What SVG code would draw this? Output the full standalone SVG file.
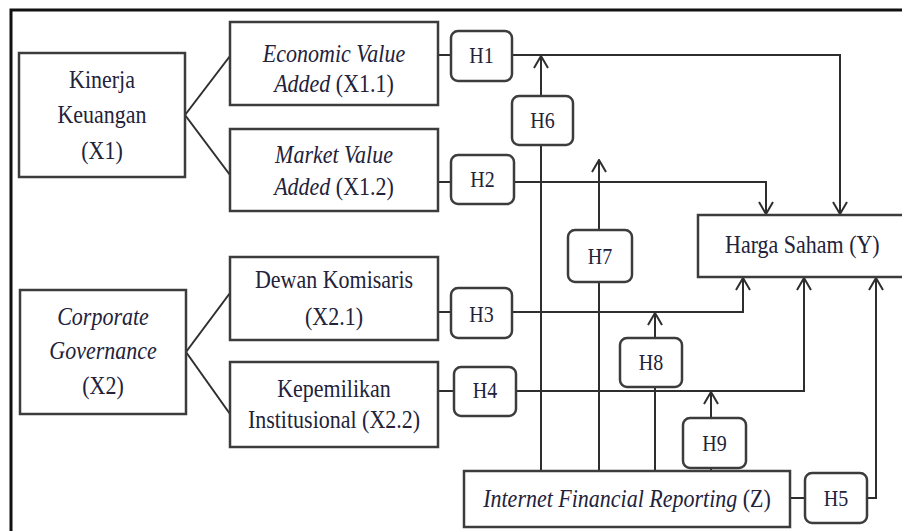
<svg xmlns="http://www.w3.org/2000/svg" width="902" height="531" viewBox="0 0 902 531">
<defs>
<style>
.box{fill:#fff;stroke:#3c3c3c;stroke-width:2.5}
.hb{fill:#fff;stroke:#3c3c3c;stroke-width:2.5}
.t{font-family:"Liberation Serif","Times New Roman",Times,serif;font-size:22px;fill:#22223a;text-anchor:middle}
.h{font-family:"Liberation Serif","Times New Roman",Times,serif;font-size:20px;fill:#22223a;text-anchor:middle}
.c{fill:none;stroke:#2e2e2e;stroke-width:2}
.i{font-style:italic}
</style>
<marker id="arr" viewBox="0 0 14 16" refX="13" refY="8" markerWidth="14" markerHeight="16" markerUnits="userSpaceOnUse" orient="auto">
<path d="M1,1 L13,8 L1,15" fill="none" stroke="#2e2e2e" stroke-width="2"/>
</marker>
</defs>
<rect x="0" y="0" width="902" height="531" fill="#fff"/>
<rect x="11" y="10" width="900" height="530" fill="none" stroke="#111" stroke-width="3"/>

<g id="connectors">
<path class="c" d="M185,115 L230,56"/>
<path class="c" d="M185,115 L230,175"/>
<path class="c" d="M186,352 L230,293"/>
<path class="c" d="M186,352 L230,414"/>
<path class="c" d="M438,55 L451,55"/>
<path class="c" d="M512,55 H840 V214" marker-end="url(#arr)"/>
<path class="c" d="M541,96 V56" marker-end="url(#arr)"/>
<path class="c" d="M541,471 V145"/>
<path class="c" d="M438,182 L451,182"/>
<path class="c" d="M514,182 H766 V214" marker-end="url(#arr)"/>
<path class="c" d="M599,471 V282"/>
<path class="c" d="M599,230 V160" marker-end="url(#arr)"/>
<path class="c" d="M438,312 L451,312"/>
<path class="c" d="M512,312 H743 V278" marker-end="url(#arr)"/>
<path class="c" d="M655,338 V313" marker-end="url(#arr)"/>
<path class="c" d="M655,474 V387"/>
<path class="c" d="M438,391 L454,391"/>
<path class="c" d="M516,391 H804 V278" marker-end="url(#arr)"/>
<path class="c" d="M711,418 V392" marker-end="url(#arr)"/>
<path class="c" d="M711,471 V468"/>
<path class="c" d="M790,498 L805,498"/>
<path class="c" d="M867,498 H876 V278" marker-end="url(#arr)"/>
</g>

<g id="kinerja">
<rect class="box" x="19" y="53" width="166" height="124"/>
<text class="t" transform="translate(102,88) scale(1,1.12)">Kinerja</text>
<text class="t" transform="translate(102,123) scale(1,1.12)">Keuangan</text>
<text class="t" transform="translate(102,159) scale(1,1.12)">(X1)</text>
</g>
<g id="eva">
<rect class="box" x="230" y="22" width="208" height="83"/>
<text class="t i" transform="translate(334,62) scale(1,1.12)">Economic Value</text>
<text class="t" transform="translate(334,92) scale(1,1.12)"><tspan class="i">Added</tspan> (X1.1)</text>
</g>
<g id="mva">
<rect class="box" x="230" y="129" width="208" height="82"/>
<text class="t i" transform="translate(334,163) scale(1,1.12)">Market Value</text>
<text class="t" transform="translate(334,195) scale(1,1.12)"><tspan class="i">Added</tspan> (X1.2)</text>
</g>
<g id="cg">
<rect class="box" x="20" y="290" width="166" height="124"/>
<text class="t i" transform="translate(103,325) scale(1,1.12)">Corporate</text>
<text class="t i" transform="translate(103,359) scale(1,1.12)">Governance</text>
<text class="t" transform="translate(103,394) scale(1,1.12)">(X2)</text>
</g>
<g id="dewan">
<rect class="box" x="230" y="257" width="208" height="83"/>
<text class="t" transform="translate(334,288) scale(1,1.12)">Dewan Komisaris</text>
<text class="t" transform="translate(334,325) scale(1,1.12)">(X2.1)</text>
</g>
<g id="kepemilikan">
<rect class="box" x="230" y="362" width="208" height="85"/>
<text class="t" transform="translate(334,397) scale(1,1.12)">Kepemilikan</text>
<text class="t" transform="translate(334,428) scale(1,1.12)">Institusional (X2.2)</text>
</g>
<g id="harga">
<rect class="box" x="698" y="215" width="215" height="62"/>
<text class="t" style="text-anchor:start" transform="translate(725,253) scale(1,1.12)">Harga Saham (Y)</text>
</g>
<g id="ifr">
<rect class="box" x="464" y="471" width="326" height="56"/>
<text class="t" transform="translate(627,507) scale(1,1.12)"><tspan class="i">Internet Financial Reporting</tspan> (Z)</text>
</g>
<g id="h1"><rect class="hb" x="451" y="31" width="61" height="50" rx="7"/><text class="h" transform="translate(481.5,63) scale(1,1.12)">H1</text></g>
<g id="h6"><rect class="hb" x="512" y="96" width="61" height="49" rx="7"/><text class="h" transform="translate(542.5,128) scale(1,1.12)">H6</text></g>
<g id="h2"><rect class="hb" x="451" y="155" width="63" height="49" rx="7"/><text class="h" transform="translate(482.5,187) scale(1,1.12)">H2</text></g>
<g id="h7"><rect class="hb" x="568" y="230" width="64" height="52" rx="7"/><text class="h" transform="translate(600,264) scale(1,1.12)">H7</text></g>
<g id="h3"><rect class="hb" x="451" y="288" width="61" height="50" rx="7"/><text class="h" transform="translate(481.5,322) scale(1,1.12)">H3</text></g>
<g id="h8"><rect class="hb" x="620" y="338" width="62" height="49" rx="7"/><text class="h" transform="translate(651,370) scale(1,1.12)">H8</text></g>
<g id="h4"><rect class="hb" x="454" y="367" width="62" height="49" rx="7"/><text class="h" transform="translate(485,398) scale(1,1.12)">H4</text></g>
<g id="h9"><rect class="hb" x="683" y="418" width="63" height="50" rx="7"/><text class="h" transform="translate(714.5,451) scale(1,1.12)">H9</text></g>
<g id="h5"><rect class="hb" x="805" y="473" width="62" height="50" rx="7"/><text class="h" transform="translate(836,506) scale(1,1.12)">H5</text></g>
</svg>
